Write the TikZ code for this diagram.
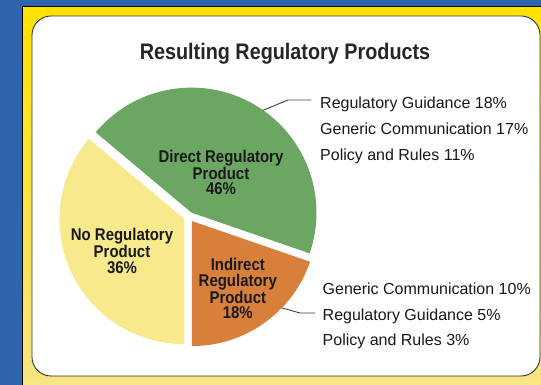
\documentclass[tikz,border=0pt]{standalone}
\usepackage{fontspec}
\setmainfont{Liberation Sans}
\newfontfamily\narrowfont[FakeStretch=0.88]{Liberation Sans}
\usetikzlibrary{positioning}

\definecolor{bgblue}{HTML}{2E65AC}
\definecolor{panelyellow}{HTML}{FFE200}
\definecolor{panelpale}{HTML}{F7E484}
\definecolor{directgreen}{HTML}{6CA663}
\definecolor{indirectorange}{HTML}{D8803B}
\definecolor{noyellow}{HTML}{F8E98C}

\begin{document}
\begin{tikzpicture}[x=1pt,y=1pt,line cap=round,line join=round,
	listlabel/.style={anchor=base west,inner sep=0pt,text=black!90,font=\fontsize{16}{16}\selectfont},
	slicelabel/.style={align=center,inner sep=0pt,text=black!90,font=\narrowfont\bfseries\fontsize{17}{15.5}\selectfont},
	leader/.style={draw=black!75,line width=0.9pt}]
				\useasboundingbox (0,0) rectangle (541,385);
				\fill[bgblue] (0,0) rectangle (541,385);
				
				% panel
				\shade[top color=panelyellow,bottom color=panelpale] (22,-2) rectangle (545,378);
				\draw[line width=1pt] (22,-2) -- (22,378) -- (545,378);
				\draw[fill=white,draw=black!80,line width=0.9pt,rounded corners=19pt] (32,9) rectangle (540,369);
				
				\node[anchor=base,inner sep=0pt,text=black!85,font=\narrowfont\bfseries\fontsize{22.5}{24}\selectfont] (title) at (285,325) {Resulting Regulatory Products};
				
				% pie
				\coordinate (c) at (189,168);
				\fill[directgreen] ([shift={(60.5:5)}]c) -- ++(140:125) arc[start angle=140,end angle=-19,radius=125] -- cycle;
				\fill[indirectorange] ([shift={(-54.5:5)}]c) -- ++(-19:125) arc[start angle=-19,end angle=-90,radius=125] -- cycle;
				\fill[noyellow] ([shift={(205:5)}]c) -- ++(270:125) arc[start angle=270,end angle=140,radius=125] -- cycle;
				
				\node[slicelabel] (direct) at (221,212.6) {Direct Regulatory\\Product\\46\%};
				\node[slicelabel] (none) at (122,134) {No Regulatory\\Product\\36\%};
				\node[slicelabel] (indirect) at (237.8,96.3) {Indirect\\Regulatory\\Product\\18\%};
				
				% lists
				\node[listlabel] (dguid) at (320,276) {Regulatory Guidance 18\%};
				\node[listlabel] (dcomm) at (320,250) {Generic Communication 17\%};
				\node[listlabel] (drules) at (320,224) {Policy and Rules 11\%};
				
				\node[listlabel] (icomm) at (322.5,90) {Generic Communication 10\%};
				\node[listlabel] (iguid) at (322.5,64.5) {Regulatory Guidance 5\%};
				\node[listlabel] (irules) at (322.5,39) {Policy and Rules 3\%};
				
				% leaders
				\path ([shift={(60.5:5)}]c) ++(55:125) coordinate (dpt);
				\coordinate (dbend) at (288,285);
				\coordinate (dend) at (311,285);
				\draw[leader] (dpt) -- (dbend) -- (dend);
				
				\path ([shift={(-54.5:5)}]c) ++(-44:125) coordinate (ipt);
				\coordinate (ibend) at (300,72);
				\coordinate (iend) at (315,72);
				\draw[leader] (ipt) -- (ibend) -- (iend);
			\end{tikzpicture}
\end{document}
